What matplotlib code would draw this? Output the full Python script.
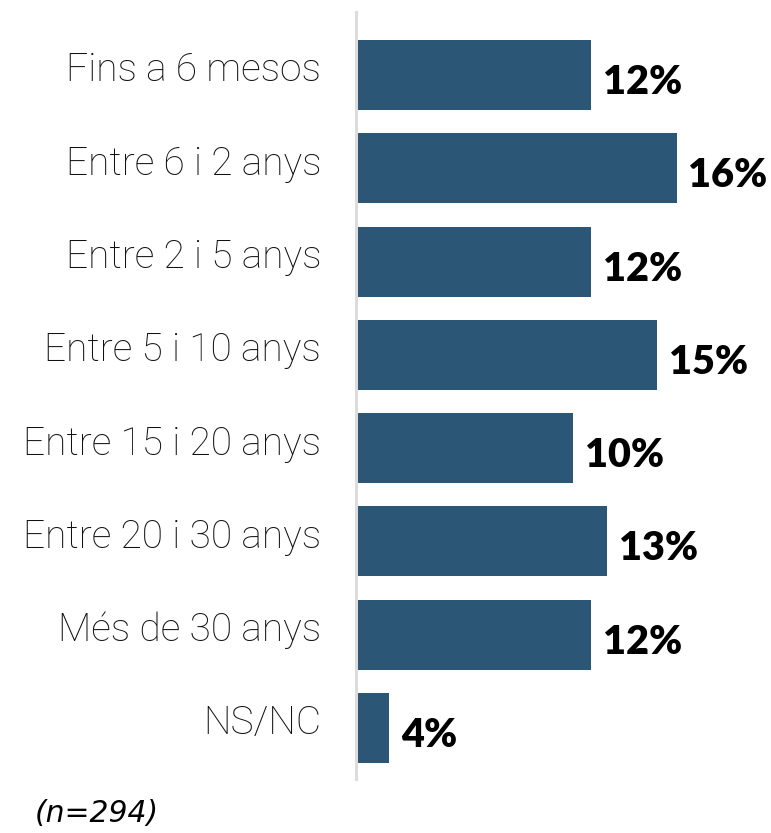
import matplotlib
matplotlib.use("Agg")
import matplotlib.pyplot as plt
from matplotlib.transforms import offset_copy

categories = ["Fins a 6 mesos", "Entre 6 i 2 anys", "Entre 2 i 5 anys",
              "Entre 5 i 10 anys", "Entre 15 i 20 anys", "Entre 20 i 30 anys",
              "Més de 30 anys", "NS/NC"]
values = [11.7, 16.0, 11.7, 15.0, 10.8, 12.5, 11.7, 1.6]   # bar lengths as drawn
value_labels = ["12%", "16%", "12%", "15%", "10%", "13%", "12%", "4%"]
note = "(n=294)"

W, H = 771, 833
fig = plt.figure(figsize=(W / 100, H / 100), dpi=100)
ax_left, ax_right = 355.5, 771
ax_top, ax_bot = 12, 779
ax = fig.add_axes([ax_left / W, (H - ax_bot) / H, (ax_right - ax_left) / W, (ax_bot - ax_top) / H])

px_per_unit = 19.95
x0 = -(357.3 - ax_left) / px_per_unit
ax.set_xlim(x0, x0 + (ax_right - ax_left) / px_per_unit)
ax.set_ylim(7.547, -0.675)

pos = list(range(len(categories)))
ax.barh(pos, values, height=0.75, color="#2b5675", zorder=2)

for s in ["top", "right", "bottom"]:
    ax.spines[s].set_visible(False)
ax.spines["left"].set_color("#dcdcdc")
ax.spines["left"].set_linewidth(2.2)
ax.set_xticks([])
ax.set_yticks([])

lab_tr = offset_copy(ax.transData, fig=fig, x=-(357.3 - 321), y=-6.5, units="dots")
for p, c in zip(pos, categories):
    ax.text(0, p, c, transform=lab_tr, ha="right", va="baseline",
            fontsize=28, family="Roboto", fontweight="light", color="#111111")

val_tr = offset_copy(ax.transData, fig=fig, x=12, y=-19, units="dots")
for p, v, t in zip(pos, values, value_labels):
    ax.text(v, p, t, transform=val_tr, ha="left", va="baseline",
            fontsize=28.5, family="Lato", fontweight="heavy", color="black")

fig.text(35 / W, 1 - 822 / H, note, ha="left", va="baseline", fontsize=21.5,
         family="DejaVu Sans", style="italic", color="black")

fig.savefig("out.png", dpi=100)
